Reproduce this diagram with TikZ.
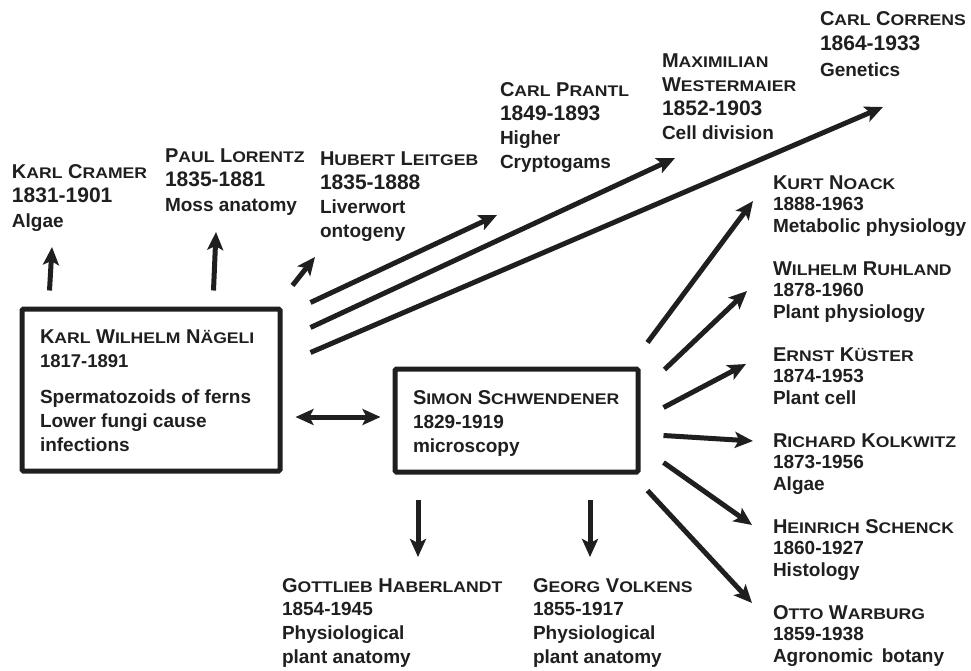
\documentclass[tikz,border=0pt]{standalone}
\usepackage{fontspec}
\setmainfont{Liberation Sans}
\usepackage{graphicx}
\usetikzlibrary{arrows.meta}

% small capitals faked from scaled capitals
\newcommand\smc[1]{\scalebox{0.88}[0.77]{#1}}
% a block of lines with a fixed baseline pitch; its baseline is the first line
\newcommand\card[2]{\vtop{\baselineskip=#1pt\lineskiplimit=-\maxdimen\lineskip=0pt\relax #2}}
\newcommand\nm[1]{\hbox{\fontsize{20}{24}\selectfont #1}}
\newcommand\yr[2]{\hbox{\fontsize{#1}{24}\selectfont #2}}
\newcommand\tx[1]{\hbox{#1}}

\begin{document}
\begin{tikzpicture}[x=1pt,y=-1pt,
  person/.style={anchor=base west, inner sep=0pt, outer sep=0pt, text=black!88,
    font=\bfseries\fontsize{19}{24}\selectfont},
  frame/.style={draw=black!88, line width=5pt, rounded corners=1.5pt, inner sep=0pt},
  tip/.tip={Stealth[length=18pt,width=16pt,inset=4pt]},
  arr/.style={draw=black!88, line width=5pt, -tip},
  darr/.style={draw=black!88, line width=5pt, tip-tip}
]
\useasboundingbox (0,0) rectangle (971,670);

% the two framed teachers
\node[frame, minimum width=258pt, minimum height=162pt] (box1) at (151,390) {};
\node[frame, minimum width=243pt, minimum height=103pt] (box2) at (516.5,420.5) {};

\node[person] (naegeli) at (40,343) {\card{24}{%
  \nm{K\smc{ARL} W\smc{ILHELM} N\smc{ÄGELI}}\yr{18.5}{1817-1891}\vskip12pt
  \tx{Spermatozoids of ferns}\tx{Lower fungi cause}\tx{infections}}};
\node[person] (schwendener) at (413,404) {\card{24}{%
  \nm{S\smc{IMON} S\smc{CHWENDENER}}\yr{19}{1829-1919}\tx{microscopy}}};

% students of Naegeli
\node[person] (cramer) at (12,178) {\card{24.5}{%
  \nm{K\smc{ARL} C\smc{RAMER}}\yr{21}{1831-1901}\tx{Algae}}};
\node[person] (lorentz) at (165,162) {\card{24.5}{%
  \nm{P\smc{AUL} L\smc{ORENTZ}}\yr{21}{1835-1881}\tx{Moss anatomy}}};
\node[person] (leitgeb) at (320,165) {\card{24}{%
  \nm{H\smc{UBERT} L\smc{EITGEB}}\yr{21}{1835-1888}\tx{Liverwort}\tx{ontogeny}}};
\node[person] (prantl) at (500,96) {\card{24}{%
  \nm{C\smc{ARL} P\smc{RANTL}}\yr{21}{1849-1893}\tx{Higher}\tx{Cryptogams}}};
\node[person] (westermaier) at (662,67) {\card{24}{%
  \nm{M\smc{AXIMILIAN}}\nm{W\smc{ESTERMAIER}}\yr{21}{1852-1903}\tx{Cell division}}};
\node[person] (correns) at (820,25) {\card{25.5}{%
  \nm{C\smc{ARL} C\smc{ORRENS}}\yr{21}{1864-1933}\tx{Genetics}}};

% students of Schwendener
\node[person] (noack) at (773,189) {\card{21.5}{%
  \nm{K\smc{URT} N\smc{OACK}}\yr{19}{1888-1963}\tx{Metabolic physiology}}};
\node[person] (ruhland) at (773,275) {\card{21.5}{%
  \nm{W\smc{ILHELM} R\smc{UHLAND}}\yr{19}{1878-1960}\tx{Plant physiology}}};
\node[person] (kuester) at (773,361) {\card{21.5}{%
  \nm{E\smc{RNST} K\smc{ÜSTER}}\yr{19}{1874-1953}\tx{Plant cell}}};
\node[person] (kolkwitz) at (773,447) {\card{21.5}{%
  \nm{R\smc{ICHARD} K\smc{OLKWITZ}}\yr{19}{1873-1956}\tx{Algae}}};
\node[person] (schenck) at (773,533) {\card{21.5}{%
  \nm{H\smc{EINRICH} S\smc{CHENCK}}\yr{19}{1860-1927}\tx{Histology}}};
\node[person] (warburg) at (773,619) {\card{21.5}{%
  \nm{O\smc{TTO} W\smc{ARBURG}}\yr{19}{1859-1938}\tx{Agronomic\hspace{0.45em}botany}}};
\node[person] (haberlandt) at (282,592) {\card{23.7}{%
  \nm{G\smc{OTTLIEB} H\smc{ABERLANDT}}\yr{19}{1854-1945}\tx{Physiological}\tx{plant anatomy}}};
\node[person] (volkens) at (533,592) {\card{23.7}{%
  \nm{G\smc{EORG} V\smc{OLKENS}}\yr{19}{1855-1917}\tx{Physiological}\tx{plant anatomy}}};

% arrow tips
\coordinate (tCramer) at (52,247);
\coordinate (tLorentz) at (216,232);
\coordinate (tLeitgeb) at (315,257);
\coordinate (tPrantl) at (497,215);
\coordinate (tWestermaier) at (675,158);
\coordinate (tCorrens) at (883,107);
\coordinate (tNoack) at (753,201);
\coordinate (tRuhland) at (747,291);
\coordinate (tKuester) at (746,364);
\coordinate (tKolkwitz) at (753,441);
\coordinate (tSchenck) at (752,525);
\coordinate (tWarburg) at (752,603);
\coordinate (tHaberlandt) at (418,557);
\coordinate (tVolkens) at (590,557);

% Naegeli's lines
\draw[arr] ([shift={(30,-16)}]box1.north west) -- (tCramer);
\draw[arr] ([shift={(194,-16)}]box1.north west) -- (tLorentz);
\draw[arr] ([shift={(10,-21)}]box1.north east) -- (tLeitgeb);
\draw[arr] ([shift={(28,-4)}]box1.north east) -- (tPrantl);
\draw[arr] ([shift={(28,21)}]box1.north east) -- (tWestermaier);
\draw[arr] ([shift={(28,46)}]box1.north east) -- (tCorrens);
\draw[darr] ([shift={(13,27)}]box1.east) -- ([shift={(-12,-3.5)}]box2.west);

% Schwendener's lines
\draw[arr] ([shift={(7,-24)}]box2.north east) -- (tNoack);
\draw[arr] ([shift={(24,3)}]box2.north east) -- (tRuhland);
\draw[arr] ([shift={(23,41)}]box2.north east) -- (tKuester);
\draw[arr] ([shift={(23,69)}]box2.north east) -- (tKolkwitz);
\draw[arr] ([shift={(23,96)}]box2.north east) -- (tSchenck);
\draw[arr] ([shift={(7,16)}]box2.south east) -- (tWarburg);
\draw[arr] ([shift={(-98.5,25)}]box2.south) -- (tHaberlandt);
\draw[arr] ([shift={(73.5,25)}]box2.south) -- (tVolkens);
\end{tikzpicture}
\end{document}
